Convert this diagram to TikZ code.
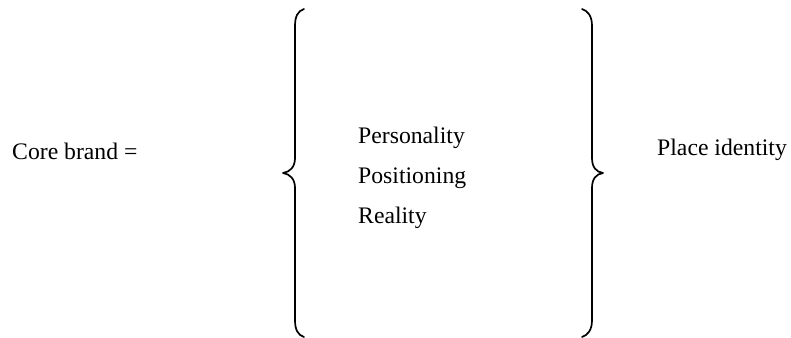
\documentclass[tikz,border=0pt]{standalone}
\usepackage{fontspec}
\setmainfont{Liberation Serif}
\begin{document}
\begin{tikzpicture}[x=1pt,y=-1pt,
  lbl/.style={inner sep=0pt,anchor=base west,font=\fontsize{23.7}{28}\selectfont},
  bracestroke/.style={line width=1.7pt,line cap=round,line join=round}]
\useasboundingbox (0,0) rectangle (791,337);
\node[lbl] (core) at (12,159) {Core brand =};
\node[lbl] (pers) at (358,143) {Personality};
\node[lbl] (posi) at (358,183) {Positioning};
\node[lbl] (real) at (358,223) {Reality};
\node[lbl] (place) at (657,155) {Place identity};
% left brace
\coordinate (ltip) at (283,173);
\draw[bracestroke] (304,9) .. controls (298,11) and (295,16) .. (295,26)
  -- (295,158) .. controls (295,167) and (290,172) .. (ltip)
  .. controls (290,174) and (295,179) .. (295,188)
  -- (295,320) .. controls (295,330) and (298,335) .. (304,337);
% right brace
\coordinate (rtip) at (603,173);
\draw[bracestroke] (582,9) .. controls (588,11) and (592,16) .. (592,26)
  -- (592,158) .. controls (592,167) and (596,172) .. (rtip)
  .. controls (596,174) and (592,179) .. (592,188)
  -- (592,320) .. controls (592,330) and (588,335) .. (582,337);
\end{tikzpicture}
\end{document}
